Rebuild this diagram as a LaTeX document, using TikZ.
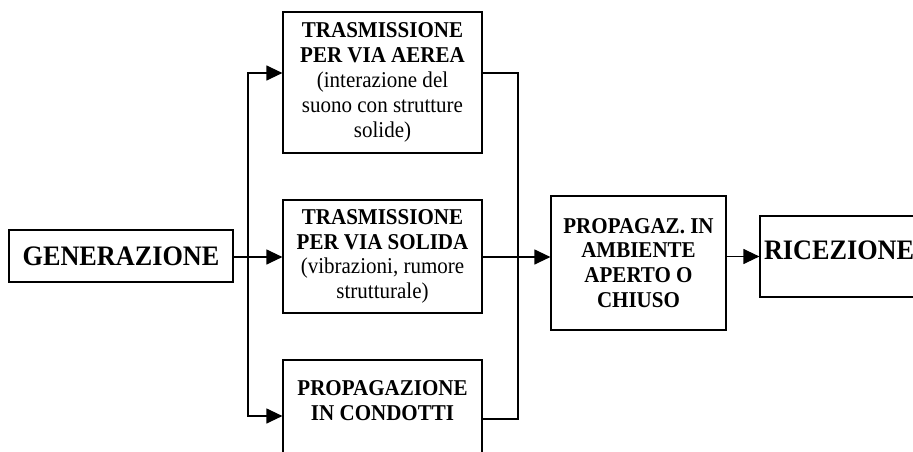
\documentclass[tikz,border=0pt]{standalone}
\usepackage{fontspec}
\setmainfont{Liberation Serif}[FakeStretch=0.93]
\usetikzlibrary{arrows.meta}

\tikzset{
    box/.style={draw, line width=1.2pt, inner sep=0pt},
    boxtext/.style={align=center, font=\fontsize{22.6}{24.8}\selectfont},
    bigtext/.style={font=\fontsize{28.2}{30}\selectfont\bfseries},
}

\begin{document}
\begin{tikzpicture}[x=1pt, y=-1pt, line width=1.2pt, >={Triangle[length=16pt,width=15pt]}]
    \clip (0,0) rectangle (913,452);
    \node[box, bigtext, minimum width=224pt, minimum height=52pt] (gen) at (121,256) {GENERAZIONE};
    \node[box, boxtext, minimum width=199pt, minimum height=141pt] (aerea) at (382.5,82.5)
        {\textbf{TRASMISSIONE}\\\textbf{PER VIA AEREA}\\(interazione del\\suono con strutture\\solide)};
    \node[box, boxtext, minimum width=199pt, minimum height=113pt] (solida) at (382.5,256.5)
        {\textbf{TRASMISSIONE}\\\textbf{PER VIA SOLIDA}\\(vibrazioni, rumore\\strutturale)};
    \node[box, minimum width=199pt, minimum height=112pt] (condotti) at (382.5,416) {};
    \node[boxtext, anchor=north, inner sep=0pt] (condottitxt) at ([yshift=-21pt]condotti.north)
        {\textbf{PROPAGAZIONE}\\\textbf{IN CONDOTTI}};
    \node[box, boxtext, minimum width=175pt, minimum height=134pt] (prop) at (638.5,263)
        {\textbf{PROPAGAZ. IN}\\\textbf{AMBIENTE}\\\textbf{APERTO O}\\\textbf{CHIUSO}};
    \node[box, minimum width=200pt, minimum height=81pt] (ric) at (860,256.5) {};
    \node[bigtext, anchor=west, inner sep=0pt] (rictxt) at ([xshift=4pt,yshift=6pt]ric.west) {RICEZIONE};

    % diramazione
    \coordinate (split) at (248,257);
    \coordinate (merge) at (518,257);
    \draw[->] (gen.east |- split) -- (split -| solida.west);
    \draw[->] (split) |- ([yshift=9.5pt]aerea.west);
    \draw[->] (split) |- (condotti.west);
    % ricongiungimento
    \draw ([yshift=9.5pt]aerea.east) -| (merge);
    \draw ([yshift=-3pt]condotti.east) -| (merge);
    \draw[->] (solida.east |- merge) -- (merge -| prop.west);
    \draw[->] (ric.west -| prop.east) -- (ric.west);
\end{tikzpicture}
\end{document}
